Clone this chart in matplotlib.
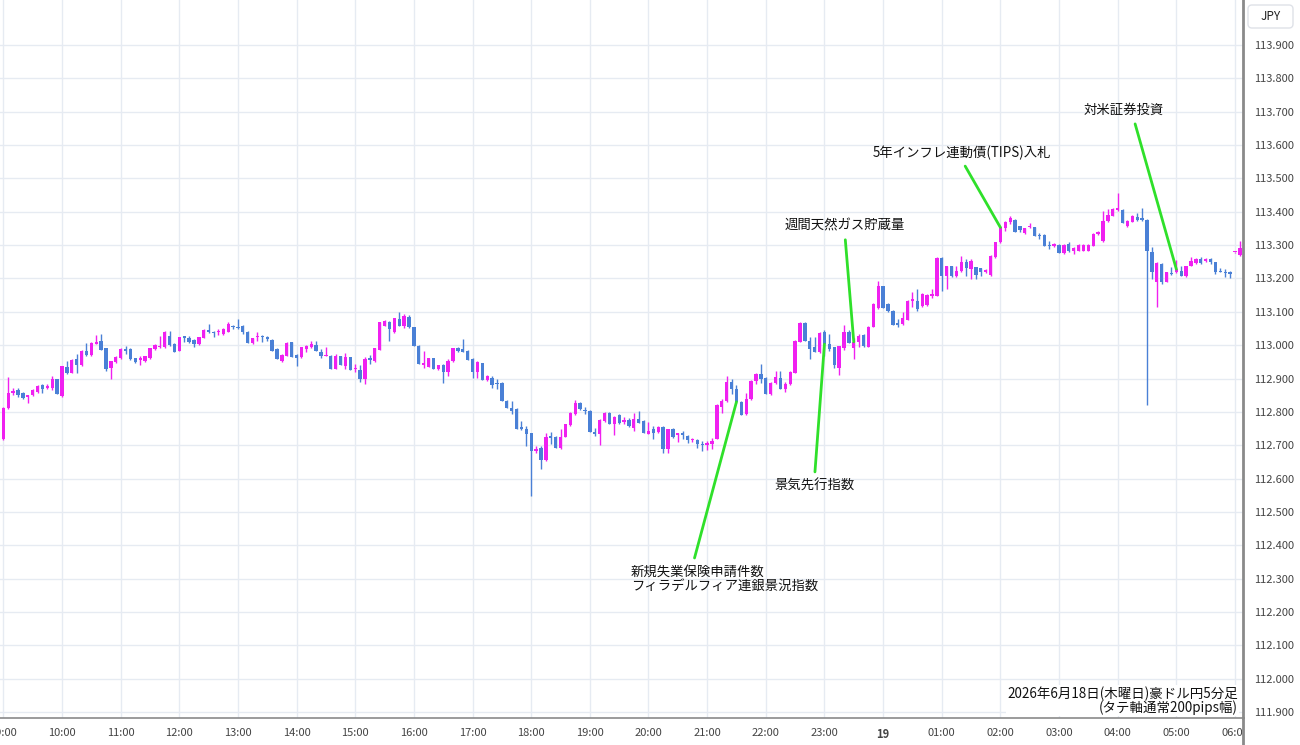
import numpy as np
import pandas as pd
import matplotlib
matplotlib.use("Agg")
import matplotlib.pyplot as plt
import matplotlib.dates as mdates
from matplotlib.patches import FancyBboxPatch, Rectangle
from matplotlib.lines import Line2D
from matplotlib.transforms import IdentityTransform

plt.rcParams['font.family'] = ['Noto Sans CJK JP', 'DejaVu Sans']

# AUD/JPY 5-minute candles, 2026-06-18 09:00 -> 06:05 next day
start_time = "2026-06-18 09:00"
opens = [
    112.72, 112.813, 112.858, 112.865, 112.856, 112.845, 112.85, 112.86, 112.88, 112.873,
    112.873, 112.898, 112.848, 112.936, 112.918, 112.958, 112.94, 112.983, 112.97, 113.003,
    113.012, 112.99, 112.933, 112.95, 112.96, 112.988, 112.988, 112.96, 112.956, 112.953,
    112.961, 112.988, 112.993, 112.993, 113.028, 113.003, 112.983, 113.026, 113.02, 113.015,
    113.002, 113.022, 113.045, 113.04, 113.038, 113.033, 113.04, 113.058, 113.053, 113.056,
    113.04, 113.006, 113.023, 113.028, 113.023, 113.016, 112.988, 112.953, 112.968, 113.008,
    112.97, 112.963, 112.988, 112.993, 113.0, 112.98, 112.968, 112.968, 112.93, 112.966,
    112.938, 112.963, 112.928, 112.926, 112.9, 112.96, 112.953, 112.986, 113.058, 113.068,
    113.038, 113.078, 113.058, 113.085, 113.053, 112.998, 112.94, 112.936, 112.96, 112.928,
    112.94, 112.92, 112.953, 112.99, 112.988, 112.983, 112.958, 112.92, 112.946, 112.896,
    112.903, 112.888, 112.888, 112.833, 112.813, 112.81, 112.756, 112.75, 112.736, 112.683,
    112.693, 112.656, 112.728, 112.726, 112.693, 112.726, 112.76, 112.793, 112.828, 112.806,
    112.803, 112.74, 112.733, 112.773, 112.798, 112.763, 112.79, 112.77, 112.776, 112.753,
    112.78, 112.773, 112.733, 112.748, 112.74, 112.756, 112.69, 112.748, 112.73, 112.736,
    112.728, 112.716, 112.716, 112.703, 112.7, 112.703, 112.72, 112.815, 112.833, 112.89,
    112.868, 112.83, 112.793, 112.838, 112.893, 112.913, 112.903, 112.853, 112.888, 112.903,
    112.87, 112.883, 112.918, 113.01, 113.066, 113.013, 112.993, 112.978, 113.038, 113.003,
    112.993, 112.933, 112.99, 113.04, 112.99, 113.01, 113.03, 112.995, 113.055, 113.11,
    113.176, 113.123, 113.103, 113.066, 113.063, 113.076, 113.133, 113.133, 113.116, 113.12,
    113.146, 113.148, 113.26, 113.206, 113.236, 113.206, 113.223, 113.25, 113.228, 113.233,
    113.23, 113.218, 113.21, 113.263, 113.308, 113.35, 113.368, 113.376, 113.356, 113.336,
    113.353, 113.353, 113.33, 113.33, 113.3, 113.296, 113.3, 113.276, 113.303, 113.283,
    113.283, 113.283, 113.283, 113.298, 113.333, 113.313, 113.373, 113.388, 113.406, 113.406,
    113.356, 113.37, 113.383, 113.38, 113.376, 113.278, 113.19, 113.243, 113.19, 113.216,
    113.218, 113.223, 113.206, 113.238, 113.246, 113.258, 113.253, 113.258, 113.248, 113.223,
    113.22, 113.218, 113.278, 113.27,
]
highs = [
    112.815, 112.906, 112.873, 112.872, 112.86, 112.852, 112.87, 112.88, 112.883, 112.883,
    112.908, 112.9, 112.938, 112.953, 112.958, 112.973, 112.985, 113.006, 113.008, 113.03,
    113.033, 112.99, 112.953, 112.966, 112.99, 112.998, 112.99, 112.962, 112.966, 112.968,
    112.992, 113.003, 113.028, 113.042, 113.043, 113.005, 113.025, 113.028, 113.028, 113.018,
    113.025, 113.048, 113.063, 113.043, 113.048, 113.05, 113.068, 113.06, 113.078, 113.06,
    113.042, 113.022, 113.04, 113.03, 113.026, 113.018, 112.99, 112.972, 113.008, 113.01,
    112.973, 112.995, 113.0, 113.013, 113.013, 112.988, 112.993, 112.97, 112.973, 112.968,
    112.976, 112.965, 112.943, 112.94, 112.963, 112.97, 112.992, 113.07, 113.075, 113.073,
    113.082, 113.098, 113.093, 113.09, 113.055, 113.0, 112.983, 112.962, 112.962, 112.942,
    112.943, 112.958, 112.992, 112.993, 113.018, 112.985, 112.962, 112.953, 112.948, 112.91,
    112.908, 112.898, 112.89, 112.835, 112.833, 112.812, 112.773, 112.758, 112.738, 112.698,
    112.698, 112.738, 112.74, 112.728, 112.748, 112.765, 112.8, 112.836, 112.83, 112.816,
    112.805, 112.753, 112.778, 112.8, 112.8, 112.788, 112.793, 112.786, 112.783, 112.798,
    112.803, 112.775, 112.77, 112.758, 112.758, 112.758, 112.75, 112.753, 112.738, 112.743,
    112.73, 112.723, 112.718, 112.713, 112.713, 112.723, 112.823, 112.838, 112.908, 112.9,
    112.88, 112.832, 112.856, 112.895, 112.918, 112.943, 112.905, 112.89, 112.923, 112.923,
    112.89, 112.922, 113.015, 113.068, 113.068, 113.023, 113.023, 113.038, 113.046, 113.033,
    112.995, 112.998, 113.06, 113.045, 113.02, 113.033, 113.032, 113.058, 113.126, 113.193,
    113.178, 113.125, 113.105, 113.078, 113.098, 113.135, 113.16, 113.168, 113.156, 113.152,
    113.168, 113.263, 113.263, 113.238, 113.238, 113.238, 113.266, 113.258, 113.258, 113.233,
    113.232, 113.228, 113.27, 113.31, 113.358, 113.373, 113.386, 113.378, 113.358, 113.352,
    113.366, 113.355, 113.336, 113.332, 113.313, 113.306, 113.302, 113.302, 113.308, 113.293,
    113.302, 113.302, 113.302, 113.335, 113.342, 113.403, 113.408, 113.41, 113.456, 113.408,
    113.375, 113.39, 113.396, 113.41, 113.378, 113.293, 113.248, 113.245, 113.22, 113.233,
    113.256, 113.236, 113.238, 113.263, 113.26, 113.263, 113.26, 113.26, 113.25, 113.23,
    113.228, 113.223, 113.28, 113.313,
]
lows = [
    112.715, 112.81, 112.85, 112.845, 112.838, 112.826, 112.848, 112.856, 112.858, 112.868,
    112.866, 112.853, 112.846, 112.914, 112.916, 112.918, 112.938, 112.968, 112.968, 113.003,
    112.986, 112.923, 112.898, 112.948, 112.958, 112.973, 112.956, 112.948, 112.94, 112.95,
    112.958, 112.986, 112.992, 112.99, 112.998, 112.98, 112.982, 113.008, 113.006, 112.993,
    113.0, 113.02, 113.036, 113.023, 113.03, 113.03, 113.038, 113.048, 113.048, 113.033,
    113.006, 113.004, 113.013, 113.01, 113.013, 112.983, 112.958, 112.95, 112.966, 112.963,
    112.938, 112.96, 112.98, 112.99, 112.983, 112.96, 112.966, 112.928, 112.928, 112.94,
    112.928, 112.926, 112.92, 112.89, 112.883, 112.943, 112.95, 112.984, 113.056, 113.013,
    113.036, 113.058, 113.05, 113.05, 112.998, 112.943, 112.933, 112.934, 112.928, 112.926,
    112.888, 112.908, 112.95, 112.98, 112.978, 112.956, 112.903, 112.903, 112.896, 112.894,
    112.873, 112.868, 112.833, 112.813, 112.793, 112.748, 112.746, 112.698, 112.548, 112.676,
    112.63, 112.654, 112.703, 112.693, 112.69, 112.724, 112.758, 112.79, 112.806, 112.793,
    112.74, 112.728, 112.7, 112.77, 112.763, 112.73, 112.763, 112.763, 112.756, 112.743,
    112.766, 112.736, 112.733, 112.72, 112.738, 112.678, 112.676, 112.723, 112.71, 112.718,
    112.706, 112.71, 112.693, 112.683, 112.686, 112.69, 112.718, 112.798, 112.83, 112.853,
    112.828, 112.79, 112.79, 112.836, 112.883, 112.888, 112.853, 112.85, 112.883, 112.868,
    112.86, 112.88, 112.916, 113.008, 113.013, 112.958, 112.978, 112.976, 112.968, 112.983,
    112.933, 112.91, 112.985, 113.005, 112.958, 112.993, 112.995, 112.993, 113.053, 113.108,
    113.11, 113.1, 113.06, 113.053, 113.06, 113.074, 113.113, 113.103, 113.113, 113.118,
    113.14, 113.146, 113.163, 113.168, 113.204, 113.203, 113.22, 113.208, 113.198, 113.198,
    113.208, 113.216, 113.208, 113.26, 113.306, 113.343, 113.363, 113.34, 113.338, 113.334,
    113.35, 113.328, 113.318, 113.298, 113.288, 113.293, 113.276, 113.274, 113.28, 113.273,
    113.281, 113.281, 113.281, 113.296, 113.331, 113.31, 113.368, 113.386, 113.403, 113.366,
    113.354, 113.368, 113.373, 113.373, 112.82, 113.198, 113.113, 113.183, 113.188, 113.21,
    113.216, 113.206, 113.204, 113.236, 113.244, 113.243, 113.25, 113.243, 113.213, 113.218,
    113.203, 113.2, 113.276, 113.268,
]
closes = [
    112.813, 112.858, 112.862, 112.85, 112.841, 112.85, 112.865, 112.878, 112.87, 112.878,
    112.898, 112.853, 112.938, 112.916, 112.955, 112.94, 112.983, 112.97, 113.006, 113.01,
    112.986, 112.93, 112.953, 112.963, 112.988, 112.983, 112.958, 112.95, 112.96, 112.966,
    112.99, 113.0, 112.998, 113.04, 113.0, 112.98, 113.023, 113.02, 113.008, 113.003,
    113.023, 113.046, 113.038, 113.036, 113.04, 113.048, 113.063, 113.053, 113.05, 113.038,
    113.006, 113.02, 113.028, 113.023, 113.018, 112.983, 112.958, 112.97, 113.006, 112.963,
    112.96, 112.993, 112.998, 113.003, 112.983, 112.968, 112.97, 112.928, 112.968, 112.94,
    112.963, 112.926, 112.93, 112.9, 112.958, 112.956, 112.99, 113.068, 113.073, 113.048,
    113.08, 113.058, 113.088, 113.053, 112.998, 112.943, 112.946, 112.96, 112.928, 112.94,
    112.92, 112.953, 112.99, 112.983, 112.98, 112.956, 112.92, 112.95, 112.896, 112.908,
    112.88, 112.883, 112.833, 112.813, 112.803, 112.748, 112.748, 112.733, 112.683, 112.69,
    112.656, 112.726, 112.723, 112.693, 112.726, 112.763, 112.798, 112.828, 112.808, 112.803,
    112.74, 112.733, 112.776, 112.798, 112.763, 112.786, 112.766, 112.776, 112.758, 112.78,
    112.768, 112.736, 112.743, 112.736, 112.756, 112.69, 112.748, 112.726, 112.736, 112.73,
    112.716, 112.72, 112.703, 112.7, 112.708, 112.713, 112.82, 112.833, 112.89, 112.868,
    112.83, 112.79, 112.838, 112.893, 112.913, 112.9, 112.853, 112.888, 112.905, 112.87,
    112.883, 112.92, 113.013, 113.066, 113.013, 112.988, 112.978, 113.036, 113.003, 112.988,
    112.94, 112.996, 113.04, 113.005, 113.01, 113.026, 112.998, 113.055, 113.124, 113.176,
    113.11, 113.103, 113.06, 113.06, 113.08, 113.133, 113.138, 113.108, 113.153, 113.15,
    113.153, 113.26, 113.206, 113.236, 113.206, 113.223, 113.248, 113.23, 113.253, 113.21,
    113.218, 113.226, 113.266, 113.308, 113.353, 113.368, 113.38, 113.34, 113.346, 113.35,
    113.356, 113.328, 113.326, 113.298, 113.296, 113.303, 113.276, 113.3, 113.283, 113.29,
    113.3, 113.3, 113.3, 113.333, 113.34, 113.373, 113.39, 113.408, 113.41, 113.366,
    113.373, 113.388, 113.376, 113.376, 113.283, 113.218, 113.246, 113.188, 113.218, 113.213,
    113.228, 113.208, 113.236, 113.253, 113.258, 113.246, 113.258, 113.248, 113.218, 113.218,
    113.216, 113.213, 113.28, 113.29,
]

# economic events: label, candle time
event_labels = ["新規失業保険申請件数\nフィラデルフィア連銀景況指数", "景気先行指数",
                "週間天然ガス貯蔵量", "5年インフレ連動債(TIPS)入札", "対米証券投資"]
event_times = ["2026-06-18 21:30", "2026-06-18 23:00", "2026-06-18 23:30",
               "2026-06-19 02:00", "2026-06-19 05:00"]

y_ticks = [111.9, 112.0, 112.1, 112.2, 112.3, 112.4, 112.5, 112.6, 112.7, 112.8,
           112.9, 113.0, 113.1, 113.2, 113.3, 113.4, 113.5, 113.6, 113.7, 113.8, 113.9]

UP = '#f020f0'
DOWN = '#4a80d6'
GRID = '#e6ebf2'

times = pd.date_range(start_time, periods=len(opens), freq="5min")
o = np.array(opens); h = np.array(highs); l = np.array(lows); c = np.array(closes)
up = c >= o
colors = np.where(up, UP, DOWN)
step = 5 / 1440
x = mdates.date2num(times)

fig = plt.figure(figsize=(13, 7.45), dpi=100)
ax = fig.add_axes([0, 27 / 745, 1243 / 1300, 718 / 745])

ax.vlines(x, l, h, colors=colors, lw=1.0, zorder=2)
body_lo = np.minimum(o, c)
body_h = np.maximum(np.abs(c - o), 0.003)
ax.bar(x, body_h, bottom=body_lo, width=step * 0.68, color=colors, zorder=3)

ax.set_xlim(x[0] - 0.685 * step, x[0] + 253.64 * step)
ax.set_ylim(111.882, 114.035)

# hour ticks
hour_idx = [k for k, t in enumerate(times) if t.minute == 0]
ax.set_xticks(x[hour_idx])
ax.set_xticklabels(["19" if times[k].hour == 0 else times[k].strftime("%H:%M") for k in hour_idx])
for k, lbl in zip(hour_idx, ax.get_xticklabels()):
    if times[k].hour == 0:
        lbl.set_fontweight('bold')
ax.yaxis.tick_right()
ax.set_yticks(y_ticks)
ax.set_yticklabels([f"{v:.3f}" for v in y_ticks])
ax.tick_params(axis='both', length=0, labelsize=8, colors='#444444')
ax.tick_params(axis='x', pad=7)
ax.tick_params(axis='y', pad=8)
ax.grid(True, color=GRID, lw=1, zorder=0)
ax.set_axisbelow(True)

for s in ['top', 'left']:
    ax.spines[s].set_visible(False)
ax.spines['bottom'].set_color('#8a8a8a')
ax.spines['bottom'].set_linewidth(1.2)
ax.spines['right'].set_color('#8a8a8a')
ax.spines['right'].set_linewidth(2)

# event annotations
offsets = [(-8.6, -127.4), (-7.2, -102), (-6.5, 83.5), (-28, 54), (-38, 114.5)]
relpos = [(0.33, 1), (0.5, 1), (0.5, 0), (0.5, 0), (0.62, 0)]
for lab, et, off, rp in zip(event_labels, event_times, offsets, relpos):
    k = times.get_loc(pd.Timestamp(et))
    ax.annotate(lab, xy=(x[k], c[k]), xytext=off, textcoords='offset points',
                ha='center', va='center', fontsize=9.6, color='#111111',
                multialignment='left', linespacing=1.0,
                arrowprops=dict(arrowstyle='-', color='#2fe02a', lw=2,
                                shrinkA=3, shrinkB=0, relpos=rp), zorder=5)

ax.text(0.996, 0.004, "2026年6月18日(木曜日)豪ドル円5分足\n(タテ軸通常200pips幅)",
        transform=ax.transAxes, ha='right', va='bottom', fontsize=9.7,
        multialignment='right', linespacing=0.92, color='#111111',
        bbox=dict(boxstyle='square,pad=0.1', fc='white', ec='none'), zorder=6)

# cover clipped x label under the price scale, keep separator line
fig.add_artist(Rectangle((1244, 0), 56, 26, transform=IdentityTransform(),
                         fc='white', ec='none', zorder=5))
fig.add_artist(Line2D([1243, 1243], [0, 27], transform=IdentityTransform(),
                      color='#8a8a8a', lw=2, zorder=6))

# currency box
fig.add_artist(FancyBboxPatch((1248, 717), 45, 23, boxstyle='round,pad=0,rounding_size=4',
                              transform=IdentityTransform(), fc='white', ec='#dfe2e8', lw=1))
fig.text(1270.5 / 1300, 1 - 16.5 / 745, "JPY", ha='center', va='center', fontsize=8.5, color='#222222')

fig.savefig("out.png", dpi=100)
